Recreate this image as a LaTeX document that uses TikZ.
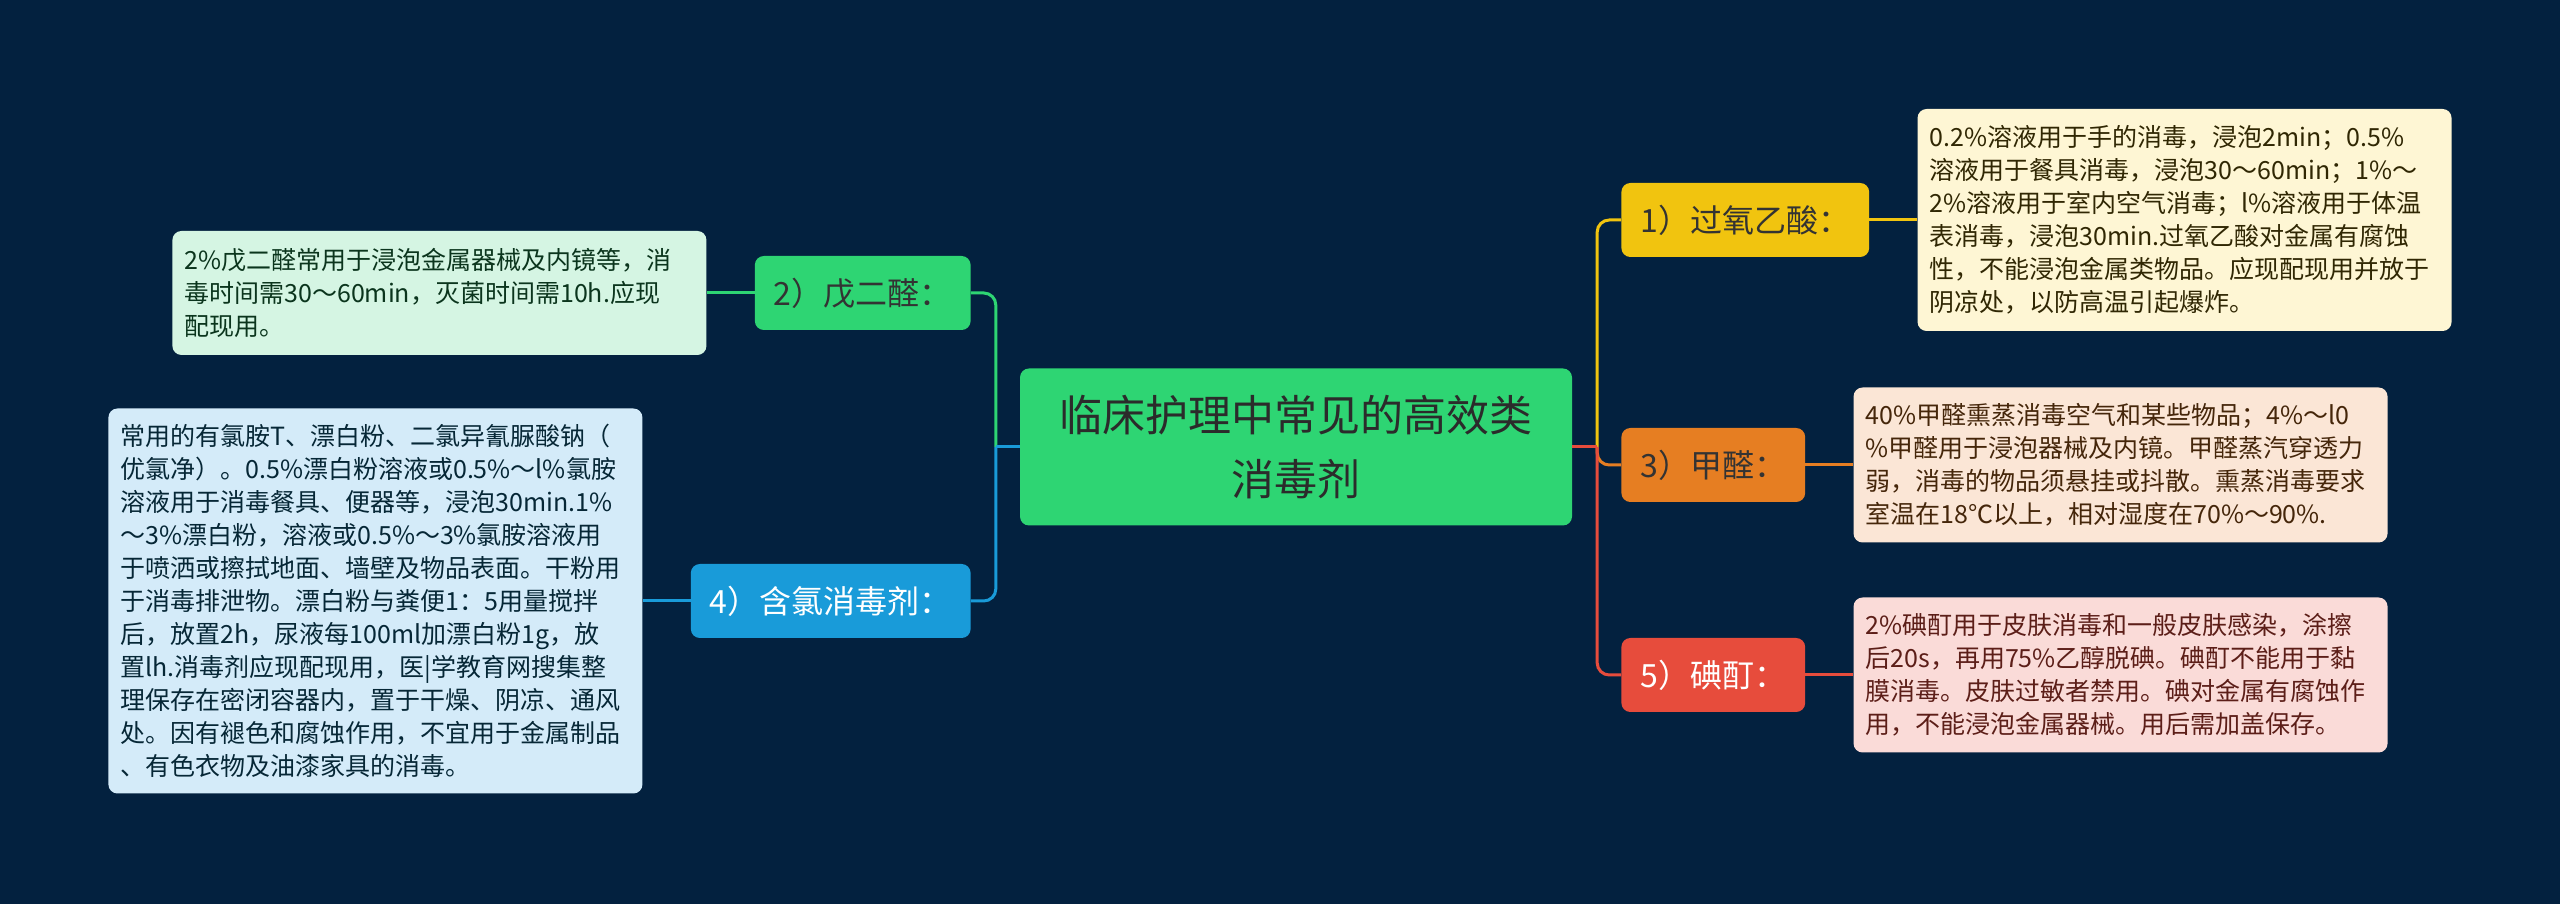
\documentclass[tikz,border=0pt]{standalone}
\usepackage{fontspec}
\setmainfont{Noto Sans CJK SC}
\usepackage{xcolor}
\usetikzlibrary{positioning}

\definecolor{bgnavy}{HTML}{03213F}
\definecolor{rootgreen}{HTML}{2ED573}
\definecolor{rootink}{HTML}{2B2B2B}
\definecolor{ylw}{HTML}{F1C40F}
\definecolor{org}{HTML}{E67E22}
\definecolor{rd}{HTML}{E74C3C}
\definecolor{grn}{HTML}{2ED573}
\definecolor{blu}{HTML}{199BD9}
\definecolor{ylwnote}{HTML}{FEF6D4}
\definecolor{orgnote}{HTML}{FBE6D6}
\definecolor{rdnote}{HTML}{FADBD8}
\definecolor{grnnote}{HTML}{D5F5E3}
\definecolor{blunote}{HTML}{D4EBF9}

\begin{document}
\begin{tikzpicture}[
    x=1pt, y=1pt,
    node distance=48pt,
    root/.style={
        fill=rootgreen,
        text=rootink,
        rounded corners=9pt,
        minimum width=552pt,
        minimum height=157pt,
        align=center,
        font=\fontsize{43}{64}\selectfont
    },
    topic/.style={
        rounded corners=9pt,
        minimum height=74pt,
        inner xsep=19pt,
        font=\fontsize{32}{38}\selectfont
    },
    note/.style={
        rounded corners=9pt,
        text width=510pt,
        inner xsep=12pt,
        align=left,
        font=\fontsize{25}{33}\selectfont
    },
    link/.style={line width=3pt}
]
\fill[bgnavy] (0,0) rectangle (2560,904);
\useasboundingbox (0,0) rectangle (2560,904);

\node[root] (c) at (1296,457) {临床护理中常见的高效类\\消毒剂};

\node[topic, fill=ylw, text=black!80, right=49pt of c, yshift=227pt] (b1) {1）过氧乙酸：};
\node[topic, fill=org, text=black!80, right=49pt of c, yshift=-18pt] (b3) {3）甲醛：};
\node[topic, fill=rd, text=white, right=49pt of c, yshift=-228pt] (b5) {5）碘酊：};
\node[topic, fill=grn, text=black!80, left=49pt of c, yshift=154pt] (b2) {2）戊二醛：};
\node[topic, fill=blu, text=white, left=49pt of c, yshift=-154pt] (b4) {4）含氯消毒剂：};

\node[note, fill=ylwnote, text=ylw!20!black, minimum height=222pt, right=of b1] (n1) {0.2\%溶液用于手的消毒，浸泡2min；0.5\%\\溶液用于餐具消毒，浸泡30～60min；1\%～\\2\%溶液用于室内空气消毒；l\%溶液用于体温\\表消毒，浸泡30min.过氧乙酸对金属有腐蚀\\性，不能浸泡金属类物品。应现配现用并放于\\阴凉处，以防高温引起爆炸。};
\node[note, fill=orgnote, text=org!30!black, minimum height=155pt, right=of b3] (n3) {40\%甲醛熏蒸消毒空气和某些物品；4\%～l0\\\%甲醛用于浸泡器械及内镜。甲醛蒸汽穿透力\\弱，消毒的物品须悬挂或抖散。熏蒸消毒要求\\室温在18℃以上，相对湿度在70\%～90\%.};
\node[note, fill=rdnote, text=rd!40!black, minimum height=155pt, right=of b5] (n5) {2\%碘酊用于皮肤消毒和一般皮肤感染，涂擦\\后20s，再用75\%乙醇脱碘。碘酊不能用于黏\\膜消毒。皮肤过敏者禁用。碘对金属有腐蚀作\\用，不能浸泡金属器械。用后需加盖保存。};
\node[note, fill=grnnote, text=grn!25!black, minimum height=124pt, left=of b2] (n2) {2\%戊二醛常用于浸泡金属器械及内镜等，消\\毒时间需30～60min，灭菌时间需10h.应现\\配现用。};
\node[note, fill=blunote, text=blu!25!black, minimum height=385pt, left=of b4] (n4) {常用的有氯胺T、漂白粉、二氯异氰脲酸钠（\\优氯净）。0.5\%漂白粉溶液或0.5\%～l\%氯胺\\溶液用于消毒餐具、便器等，浸泡30min.1\%\\～3\%漂白粉，溶液或0.5\%～3\%氯胺溶液用\\于喷洒或擦拭地面、墙壁及物品表面。干粉用\\于消毒排泄物。漂白粉与粪便1：5用量搅拌\\后，放置2h，尿液每100ml加漂白粉1g，放\\置lh.消毒剂应现配现用，医|学教育网搜集整\\理保存在密闭容器内，置于干燥、阴凉、通风\\处。因有褪色和腐蚀作用，不宜用于金属制品\\、有色衣物及油漆家具的消毒。};

\coordinate[right=25pt of c.east] (rb);
\coordinate[left=24pt of c.west] (lb);

\draw[link, ylw, rounded corners=12pt] (rb) |- (b1.west);
\draw[link, org, rounded corners=12pt] (rb) |- (b3.west);
\draw[link, rd, rounded corners=12pt] (rb) |- (b5.west);
\draw[link, rd] (c.east) -- (rb);
\draw[link, grn, rounded corners=12pt] (lb) |- (b2.east);
\draw[link, blu, rounded corners=12pt] (lb) |- (b4.east);
\draw[link, blu] (c.west) -- (lb);

\draw[link, ylw] (b1) -- (n1);
\draw[link, org] (b3) -- (n3);
\draw[link, rd] (b5) -- (n5);
\draw[link, grn] (b2) -- (n2);
\draw[link, blu] (b4) -- (n4);
\end{tikzpicture}
\end{document}
